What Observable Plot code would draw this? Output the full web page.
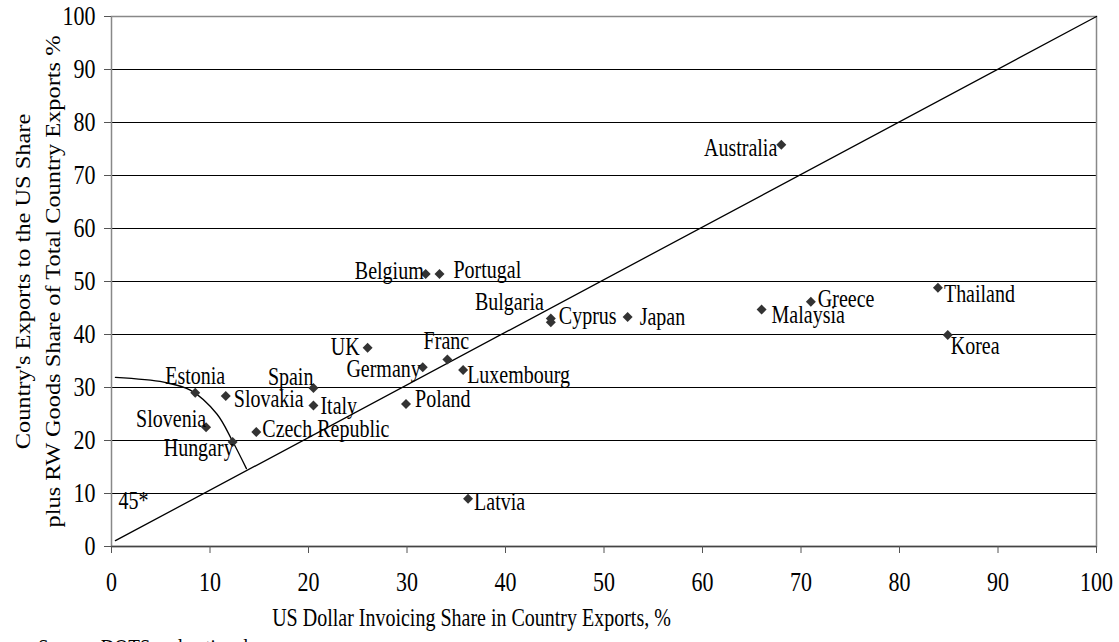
<!DOCTYPE html>
<html>
<head>
<meta charset="utf-8">
<script src="https://cdn.jsdelivr.net/npm/d3@7"></script>
<script src="https://cdn.jsdelivr.net/npm/@observablehq/plot@0.6"></script>
<style>
  body { margin: 0; background: #fff; }
  #chart svg { display: block; }
  #caption { font-family: "Liberation Serif", "Times New Roman", serif; font-size: 19px; line-height: 22px;
             margin-left: 38px; margin-top: 1px; white-space: nowrap; transform: scaleY(1.22); transform-origin: top left; }
</style>
</head>
<body>
<div id="chart"></div>
<div id="caption">Source: DOTS and national sources.</div>
<script>
// ---- data ----
const countries = ["Estonia","Slovakia","Slovenia","Hungary","Czech Republic","Spain","Italy","UK","Germany","Franc",
  "Luxembourg","Poland","Latvia","Belgium","Portugal","Bulgaria","Cyprus","Japan","Australia","Malaysia","Greece","Thailand","Korea"];
const usdInvoicingShare = [8.5, 11.6, 9.6, 12.3, 14.7, 20.5, 20.5, 26.0, 31.6, 34.1,
  35.7, 29.9, 36.2, 31.9, 33.3, 44.6, 44.6, 52.4, 68.0, 66.0, 71.0, 83.9, 84.9];
const usExportShare = [29.0, 28.4, 22.5, 19.7, 21.6, 29.9, 26.6, 37.5, 33.8, 35.3,
  33.3, 26.9, 9.0, 51.4, 51.4, 43.0, 42.3, 43.3, 75.8, 44.7, 46.2, 48.8, 39.9];
const diagonalX = [0.4, 100];
const diagonalY = [1.1, 100];
const curveX = [0.4, 5.3, 8.0, 10.7, 12.25, 13.7];
const curveY = [31.9, 31.0, 29.5, 25.0, 20.0, 14.7];
const xTicks = [0,10,20,30,40,50,60,70,80,90,100];
const yTicks = [0,10,20,30,40,50,60,70,80,90,100];
const gridLines = [10,20,30,40,50,60,70,80,90];
const xTitle = "US Dollar Invoicing Share in Country Exports, %";
const yTitle = "Country's Exports to the US Share\nplus RW Goods Share of Total Country Exports %";
const note45 = "45*";

// ---- label placement (layout only) ----
const labelPlacement = {
  "Estonia": ["middle", 0, -17], "Slovakia": ["start", 8, 3], "Slovenia": ["end", 0, -8],
  "Hungary": ["end", 1, 6], "Czech Republic": ["start", 6, -3], "Spain": ["end", 0, -11],
  "Italy": ["start", 7, 1], "UK": ["end", -8, -1], "Germany": ["end", -2, 2], "Franc": ["middle", -1, -18],
  "Luxembourg": ["start", 4, 5], "Poland": ["start", 9, -5], "Latvia": ["start", 6, 3],
  "Belgium": ["end", -2, -3], "Portugal": ["start", 14, -4], "Bulgaria": ["end", -7, -16],
  "Cyprus": ["start", 8, -6], "Japan": ["start", 12, 0], "Australia": ["end", -4, 3],
  "Malaysia": ["start", 10, 6], "Greece": ["start", 7, -2], "Thailand": ["start", 6, 6], "Korea": ["start", 3, 11]
};

const idx = countries.map((_, i) => i);
const labelMarks = idx.map(i => {
  const [anchor, dx, dy] = labelPlacement[countries[i]];
  return Plot.text([i], {x: j => usdInvoicingShare[j], y: j => usExportShare[j], text: j => countries[j],
    textAnchor: anchor, dx, dy, fontSize: 20, fill: "black"});
});

const chart = Plot.plot({
  width: 1119, height: 633,
  marginLeft: 111, marginRight: 23, marginTop: 16, marginBottom: 87,
  style: {fontFamily: '"Liberation Serif", "Times New Roman", serif', fontSize: "20px", color: "black", background: "white"},
  x: {domain: [0, 100]},
  y: {domain: [0, 100]},
  marks: [
    Plot.ruleY(gridLines, {stroke: "black", strokeWidth: 1}),
    Plot.frame({stroke: "#888", strokeWidth: 1.5}),
    Plot.ruleY([0], {stroke: "#444", strokeWidth: 1.5}),
    Plot.axisX({ticks: xTicks, tickSize: 7, tickPadding: 18, fontSize: 22, label: null, stroke: "#555", tickFormat: d => d}),
    Plot.axisY({ticks: yTicks, tickSize: 7, tickPadding: 9, fontSize: 22, label: null, stroke: "#555", tickFormat: d => d}),
    Plot.line({length: diagonalX.length}, {x: diagonalX, y: diagonalY, stroke: "black", strokeWidth: 1.3}),
    Plot.line({length: curveX.length}, {x: curveX, y: curveY, curve: "catmull-rom", stroke: "black", strokeWidth: 1.3}),
    Plot.dot(idx, {x: i => usdInvoicingShare[i], y: i => usExportShare[i], symbol: "diamond2", r: 4.5, fill: "#333", stroke: "none"}),
    ...labelMarks,
    Plot.text([note45], {text: d => d, frameAnchor: "bottom-left", dx: 7, dy: -38, textAnchor: "start", fontSize: 20}),
    Plot.text([xTitle], {text: d => d, frameAnchor: "bottom-left", dx: 360, dy: 79, textAnchor: "middle", fontSize: 20}),
    Plot.text([yTitle], {text: d => d, frameAnchor: "left", dx: -76, rotate: -90, textAnchor: "middle", lineAnchor: "middle", lineHeight: 1.5, fontSize: 20})
  ]
});

// the reference's text is stretched vertically; mimic it
const k = 1.22;
for (const t of chart.querySelectorAll("text")) {
  const tr = t.getAttribute("transform");
  if (!tr) continue;
  const rotated = /rotate/.test(tr);
  t.setAttribute("transform", `${tr} ${rotated ? `scale(${k},1)` : `scale(1,${k})`}`);
}
document.getElementById("chart").append(chart);
</script>
</body>
</html>
